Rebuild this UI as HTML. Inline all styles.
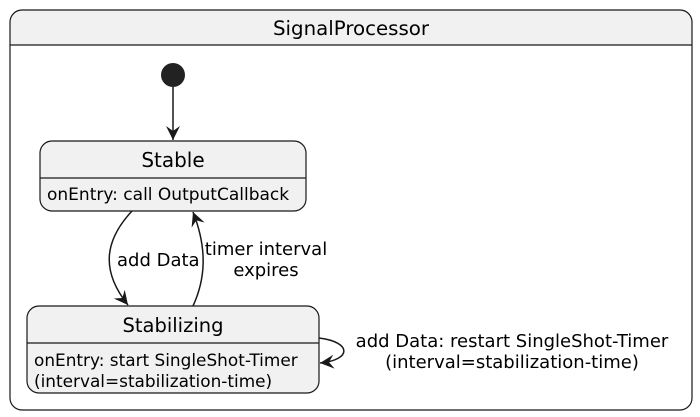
<!DOCTYPE html>
<html><head><meta charset="utf-8"><style>
body{margin:0;background:#fff}
svg{display:block}
text{font-family:"DejaVu Sans","Liberation Sans",sans-serif;fill:#000}
</style></head><body>
<svg width="700" height="417" viewBox="0 0 700 417" xmlns="http://www.w3.org/2000/svg">
<defs>
<marker id="a" markerWidth="16" markerHeight="16" refX="14" refY="7" orient="auto" markerUnits="userSpaceOnUse">
<path d="M0,0 L14,7 L0,14 L5,7 Z" fill="#181818"/>
</marker>
</defs>
<path d="M10,45 V22 Q10,10 22,10 H680 Q692,10 692,22 V45 Z" fill="#f1f1f1"/>
<rect x="10" y="10" width="682" height="400" rx="12" fill="none" stroke="#181818" stroke-width="1.2"/>
<line x1="10" y1="45" x2="692" y2="45" stroke="#181818" stroke-width="1.2"/>
<text x="351" y="35" font-size="19.8" text-anchor="middle">SignalProcessor</text>

<circle cx="173" cy="75" r="12" fill="#222"/>
<line x1="173" y1="87" x2="173" y2="140" stroke="#181818" stroke-width="1.5" marker-end="url(#a)"/>

<rect x="40" y="141" width="266" height="70" rx="12" fill="#f1f1f1" stroke="#181818" stroke-width="1.2"/>
<line x1="40" y1="178" x2="306" y2="178" stroke="#181818" stroke-width="1.2"/>
<text x="173" y="167" font-size="20" text-anchor="middle">Stable</text>
<text x="47" y="200" font-size="17">onEntry: call OutputCallback</text>

<rect x="27" y="306" width="292" height="87" rx="12" fill="#f1f1f1" stroke="#181818" stroke-width="1.2"/>
<line x1="27" y1="343" x2="319" y2="343" stroke="#181818" stroke-width="1.2"/>
<text x="173" y="332" font-size="19.5" text-anchor="middle">Stabilizing</text>
<text x="34" y="366" font-size="16.9">onEntry: start SingleShot-Timer</text>
<text x="34" y="387" font-size="16.9">(interval=stabilization-time)</text>

<path d="M132,211 C105,240 100,270 128,305" fill="none" stroke="#181818" stroke-width="1.5" marker-end="url(#a)"/>
<path d="M193,306 C205,280 208,250 193,212" fill="none" stroke="#181818" stroke-width="1.5" marker-end="url(#a)"/>
<text x="117" y="266" font-size="18">add Data</text>
<text x="266" y="255" font-size="18" text-anchor="middle">timer interval</text>
<text x="266" y="276" font-size="18" text-anchor="middle">expires</text>

<path d="M319,338 C352,342 352,360 320,363" fill="none" stroke="#181818" stroke-width="1.5" marker-end="url(#a)"/>
<text x="512" y="347" font-size="18" text-anchor="middle">add Data: restart SingleShot-Timer</text>
<text x="512" y="368" font-size="18" text-anchor="middle">(interval=stabilization-time)</text>
</svg>
</body></html>
